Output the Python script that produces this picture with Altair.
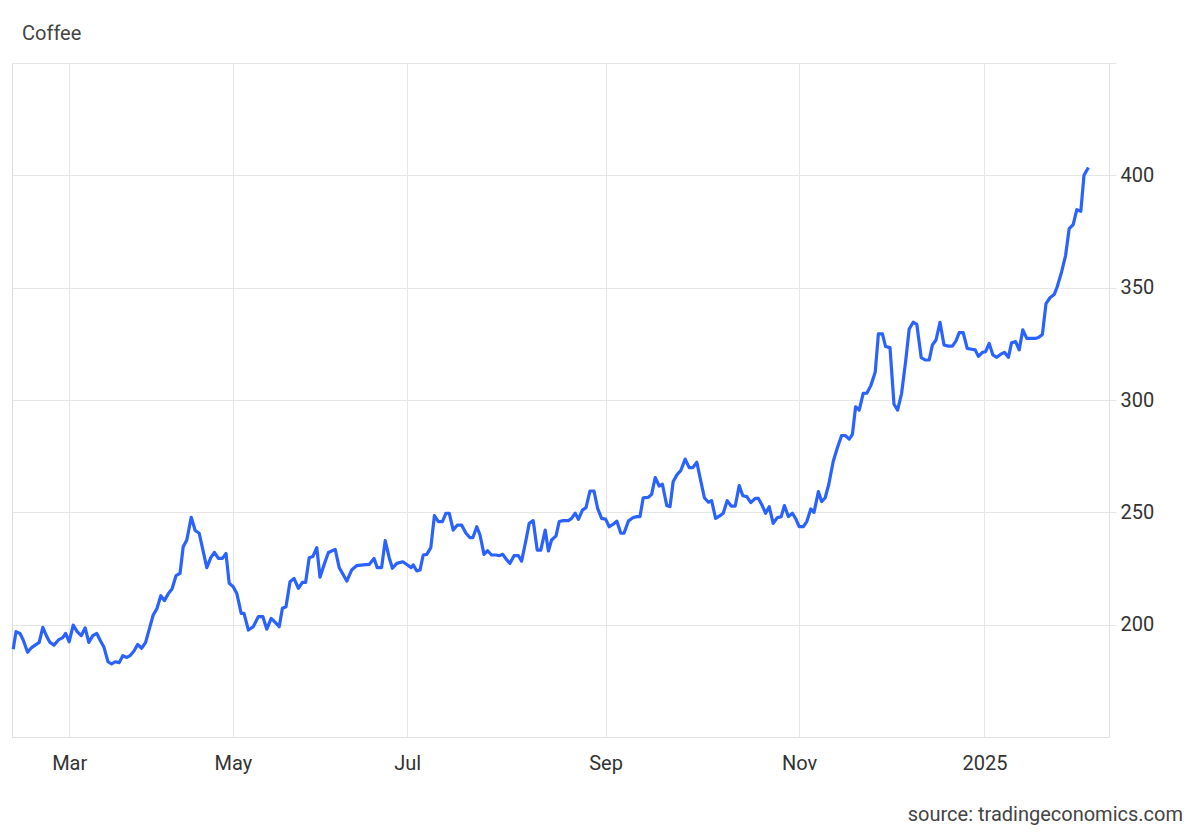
import altair as alt
import pandas as pd

# trading-day index (x) and Coffee price in USd/lbs (y)
day = [0.3, 1.0, 2.0, 2.8, 3.9, 4.9, 5.8, 6.8, 7.7, 8.7, 9.5, 10.5, 11.6, 12.7, 13.4,
       14.3, 15.3, 16.3, 17.3, 18.3, 19.2, 20.2, 21.2, 22.0, 23.0, 24.0, 24.9, 25.8,
       26.8, 27.7, 28.7, 29.5, 30.5, 31.4, 32.4, 33.4, 34.3, 35.3, 36.2, 37.2, 38.1,
       39.1, 40.0, 41.0, 42.0, 42.8, 43.7, 44.8, 45.8, 46.8, 48.7, 49.7, 50.6, 51.6,
       52.6, 53.5, 54.3, 55.3, 56.2, 57.3, 58.0, 59.1, 60.3, 61.6, 62.7, 63.7, 64.8,
       65.8, 66.8, 67.6, 68.5, 69.5, 70.5, 71.6, 72.6, 73.4, 74.3, 75.2, 76.2, 77.0,
       78.0, 79.1, 80.8, 81.8, 83.7, 84.9, 86.2, 87.8, 89.3, 90.5, 91.3, 92.4, 93.3,
       94.3, 95.1, 96.2, 97.7, 98.7, 99.8, 100.3, 101.2, 102.0, 102.8, 103.7, 104.7,
       105.6, 106.6, 107.6, 108.5, 109.3, 110.3, 111.3, 112.4, 113.5, 114.5, 115.2,
       116.2, 117.0, 118.0, 118.9, 119.9, 121.0, 121.8, 122.7, 123.7, 124.5, 125.5,
       126.6, 127.4, 128.5, 129.3, 130.3, 131.3, 132.2, 133.3, 134.1, 134.9, 136.0,
       136.8, 137.8, 139.1, 139.9, 140.8, 141.6, 142.6, 143.5, 144.5, 145.5, 146.4,
       147.4, 148.4, 149.3, 150.3, 151.2, 152.2, 153.0, 154.1, 155.2, 156.2, 157.0,
       157.8, 159.1, 159.9, 160.8, 161.8, 162.6, 163.7, 164.5, 165.3, 166.3, 167.2,
       168.3, 169.3, 170.2, 171.2, 172.2, 173.1, 174.1, 174.9, 175.9, 177.0, 177.8,
       178.8, 179.8, 180.8, 181.8, 182.7, 183.7, 184.7, 185.8, 186.6, 187.4, 188.4,
       189.3, 190.3, 191.3, 192.3, 193.1, 194.1, 195.1, 196.0, 196.8, 197.8, 198.7,
       199.7, 200.5, 201.6, 202.4, 203.3, 204.2, 205.3, 206.3, 207.4, 208.3, 209.3,
       210.1, 210.9, 211.8, 212.8, 213.7, 214.7, 215.8, 216.6, 217.6, 218.4, 219.5,
       220.5, 221.4, 222.4, 223.4, 224.3, 225.3, 226.2, 227.3, 228.3, 229.3, 230.1,
       231.0, 232.0, 233.0, 234.1, 235.1, 236.0, 236.8, 237.8, 238.8, 239.9, 240.8,
       241.6, 242.6, 243.4, 244.3, 245.2, 246.2, 247.2, 248.1, 249.1, 249.9, 250.9,
       251.8, 252.7, 253.7, 254.7, 255.8, 256.6, 257.6, 258.5, 259.5, 260.6, 261.3,
       262.4, 263.4, 264.3, 265.3, 266.2, 267.2, 268.0, 269.1]

price = [189.1, 196.9, 196.1, 193.2, 187.7, 189.8, 190.9, 192.1, 198.8, 194.7, 192.1,
         190.9, 193.2, 194.2, 196.1, 192.4, 199.8, 196.9, 195.1, 198.6, 192.1, 195.1,
         196.1, 193.2, 189.9, 183.5, 182.5, 183.5, 183.1, 186.2, 185.4, 186.2, 188.3,
         191.2, 189.5, 192.1, 197.9, 204.3, 207.0, 212.9, 210.7, 213.9, 215.9, 221.8,
         222.8, 234.7, 237.7, 247.8, 241.9, 240.7, 225.4, 229.8, 232.2, 229.5, 229.5,
         231.7, 218.4, 216.9, 213.9, 205.0, 205.0, 197.6, 199.1, 203.6, 203.6, 198.0,
         202.8, 201.0, 199.1, 207.3, 208.0, 219.1, 220.6, 216.2, 218.8, 218.8, 229.8,
         230.3, 234.3, 221.1, 226.6, 232.1, 233.5, 225.4, 219.4, 224.3, 226.3, 226.6,
         226.8, 229.5, 225.4, 225.4, 237.4, 229.8, 225.1, 227.3, 228.0, 226.8, 225.4,
         226.6, 223.9, 224.3, 231.0, 231.3, 234.3, 248.5, 245.9, 245.9, 249.6, 249.6,
         242.1, 244.3, 244.3, 240.7, 238.7, 238.7, 243.6, 239.9, 231.3, 232.9, 231.0,
         231.0, 230.7, 231.3, 228.8, 227.3, 230.7, 230.7, 228.3, 237.7, 245.1, 246.3,
         233.2, 233.2, 242.1, 232.8, 237.7, 239.5, 245.9, 246.3, 246.3, 247.3, 249.6,
         246.9, 251.0, 252.1, 259.5, 259.5, 251.8, 247.3, 247.0, 243.6, 244.7, 246.1,
         240.7, 240.7, 246.1, 247.6, 248.1, 248.1, 256.5, 256.7, 258.0, 265.5, 261.7,
         262.5, 253.0, 252.5, 263.7, 266.9, 268.6, 273.7, 269.9, 269.9, 272.3, 263.9,
         256.5, 254.5, 255.2, 247.3, 248.5, 249.6, 255.2, 252.8, 252.8, 261.9, 257.4,
         257.0, 254.3, 256.2, 256.2, 253.6, 249.6, 252.5, 245.1, 247.6, 248.1, 253.0,
         248.1, 249.6, 246.9, 243.6, 243.6, 245.9, 251.5, 250.0, 259.2, 254.8, 256.5,
         262.5, 272.6, 278.5, 284.2, 284.2, 282.6, 284.7, 297.0, 295.5, 303.0, 303.0,
         306.4, 312.3, 329.4, 329.4, 323.8, 323.3, 298.1, 295.5, 303.0, 317.1, 331.6,
         334.6, 333.7, 318.9, 317.8, 317.8, 324.5, 326.7, 334.6, 324.5, 324.0, 324.0,
         326.3, 330.0, 330.0, 323.0, 322.6, 322.3, 319.4, 321.2, 321.5, 325.2, 320.1,
         319.0, 320.4, 321.2, 319.0, 325.5, 326.0, 322.3, 331.2, 327.4, 327.4, 327.4,
         327.8, 329.2, 342.9, 345.5, 347.1, 350.4, 357.0, 364.4, 376.3, 378.1, 384.7,
         384.0, 400.0, 403.5]

tick_days = [14.3, 55.2, 98.8, 148.4, 196.8, 243.1]
tick_labels = ["Mar", "May", "Jul", "Sep", "Nov", "2025"]
y_ticks = [200, 250, 300, 350, 400, 450]
x_domain = [0, 274.25]
y_domain = [150, 450]

title_text = ["Coffee"]
source_text = ["source: tradingeconomics.com"]

df = pd.DataFrame({"day": day, "price": price})

label_expr = ""
for d, l in zip(tick_days, tick_labels):
    label_expr += f"datum.value == {d} ? '{l}' : "
label_expr += "''"

W, H = 1097, 674
FONT = "Roboto"
GRID = "#e6e6e6"

line = alt.Chart(df).mark_line(color="#2962ff", strokeWidth=3.2, strokeJoin="round").encode(
    x=alt.X("day:Q",
            scale=alt.Scale(domain=x_domain, nice=False, zero=False),
            axis=alt.Axis(values=tick_days, labelExpr=label_expr, title=None,
                          grid=True, gridColor=GRID, gridWidth=1,
                          domain=True, domainColor="#e0e0e0", ticks=False,
                          labelFont=FONT, labelFontSize=20, labelColor="#333333",
                          labelPadding=16, labelAngle=0)),
    y=alt.Y("price:Q",
            scale=alt.Scale(domain=y_domain, nice=False, zero=False),
            axis=alt.Axis(orient="right", values=y_ticks,
                          labelExpr="datum.value == 450 ? '' : datum.label",
                          title=None, grid=True, gridColor=GRID, gridWidth=1,
                          domain=True, domainColor="#e0e0e0",
                          ticks=True, tickColor=GRID, tickSize=7,
                          labelFont=FONT, labelFontSize=20, labelColor="#333333",
                          labelPadding=4)),
)

title = alt.Chart(pd.DataFrame({"t": title_text})).mark_text(
    font=FONT, fontSize=20, color="#444444", align="left", baseline="alphabetic"
).encode(text="t:N", x=alt.value(10), y=alt.value(-23))

source = alt.Chart(pd.DataFrame({"t": source_text})).mark_text(
    font=FONT, fontSize=20, color="#444444", align="right", baseline="alphabetic"
).encode(text="t:N", x=alt.value(1171), y=alt.value(758))

chart = alt.layer(line, title, source).properties(
    width=W, height=H,
    autosize=alt.AutoSizeParams(type="none"),
    padding={"left": 4, "top": 55, "right": 80, "bottom": 92},
).configure_view(stroke=None).configure(background="white")

chart.save("out.html", embed_options={"renderer": "svg", "actions": False})
